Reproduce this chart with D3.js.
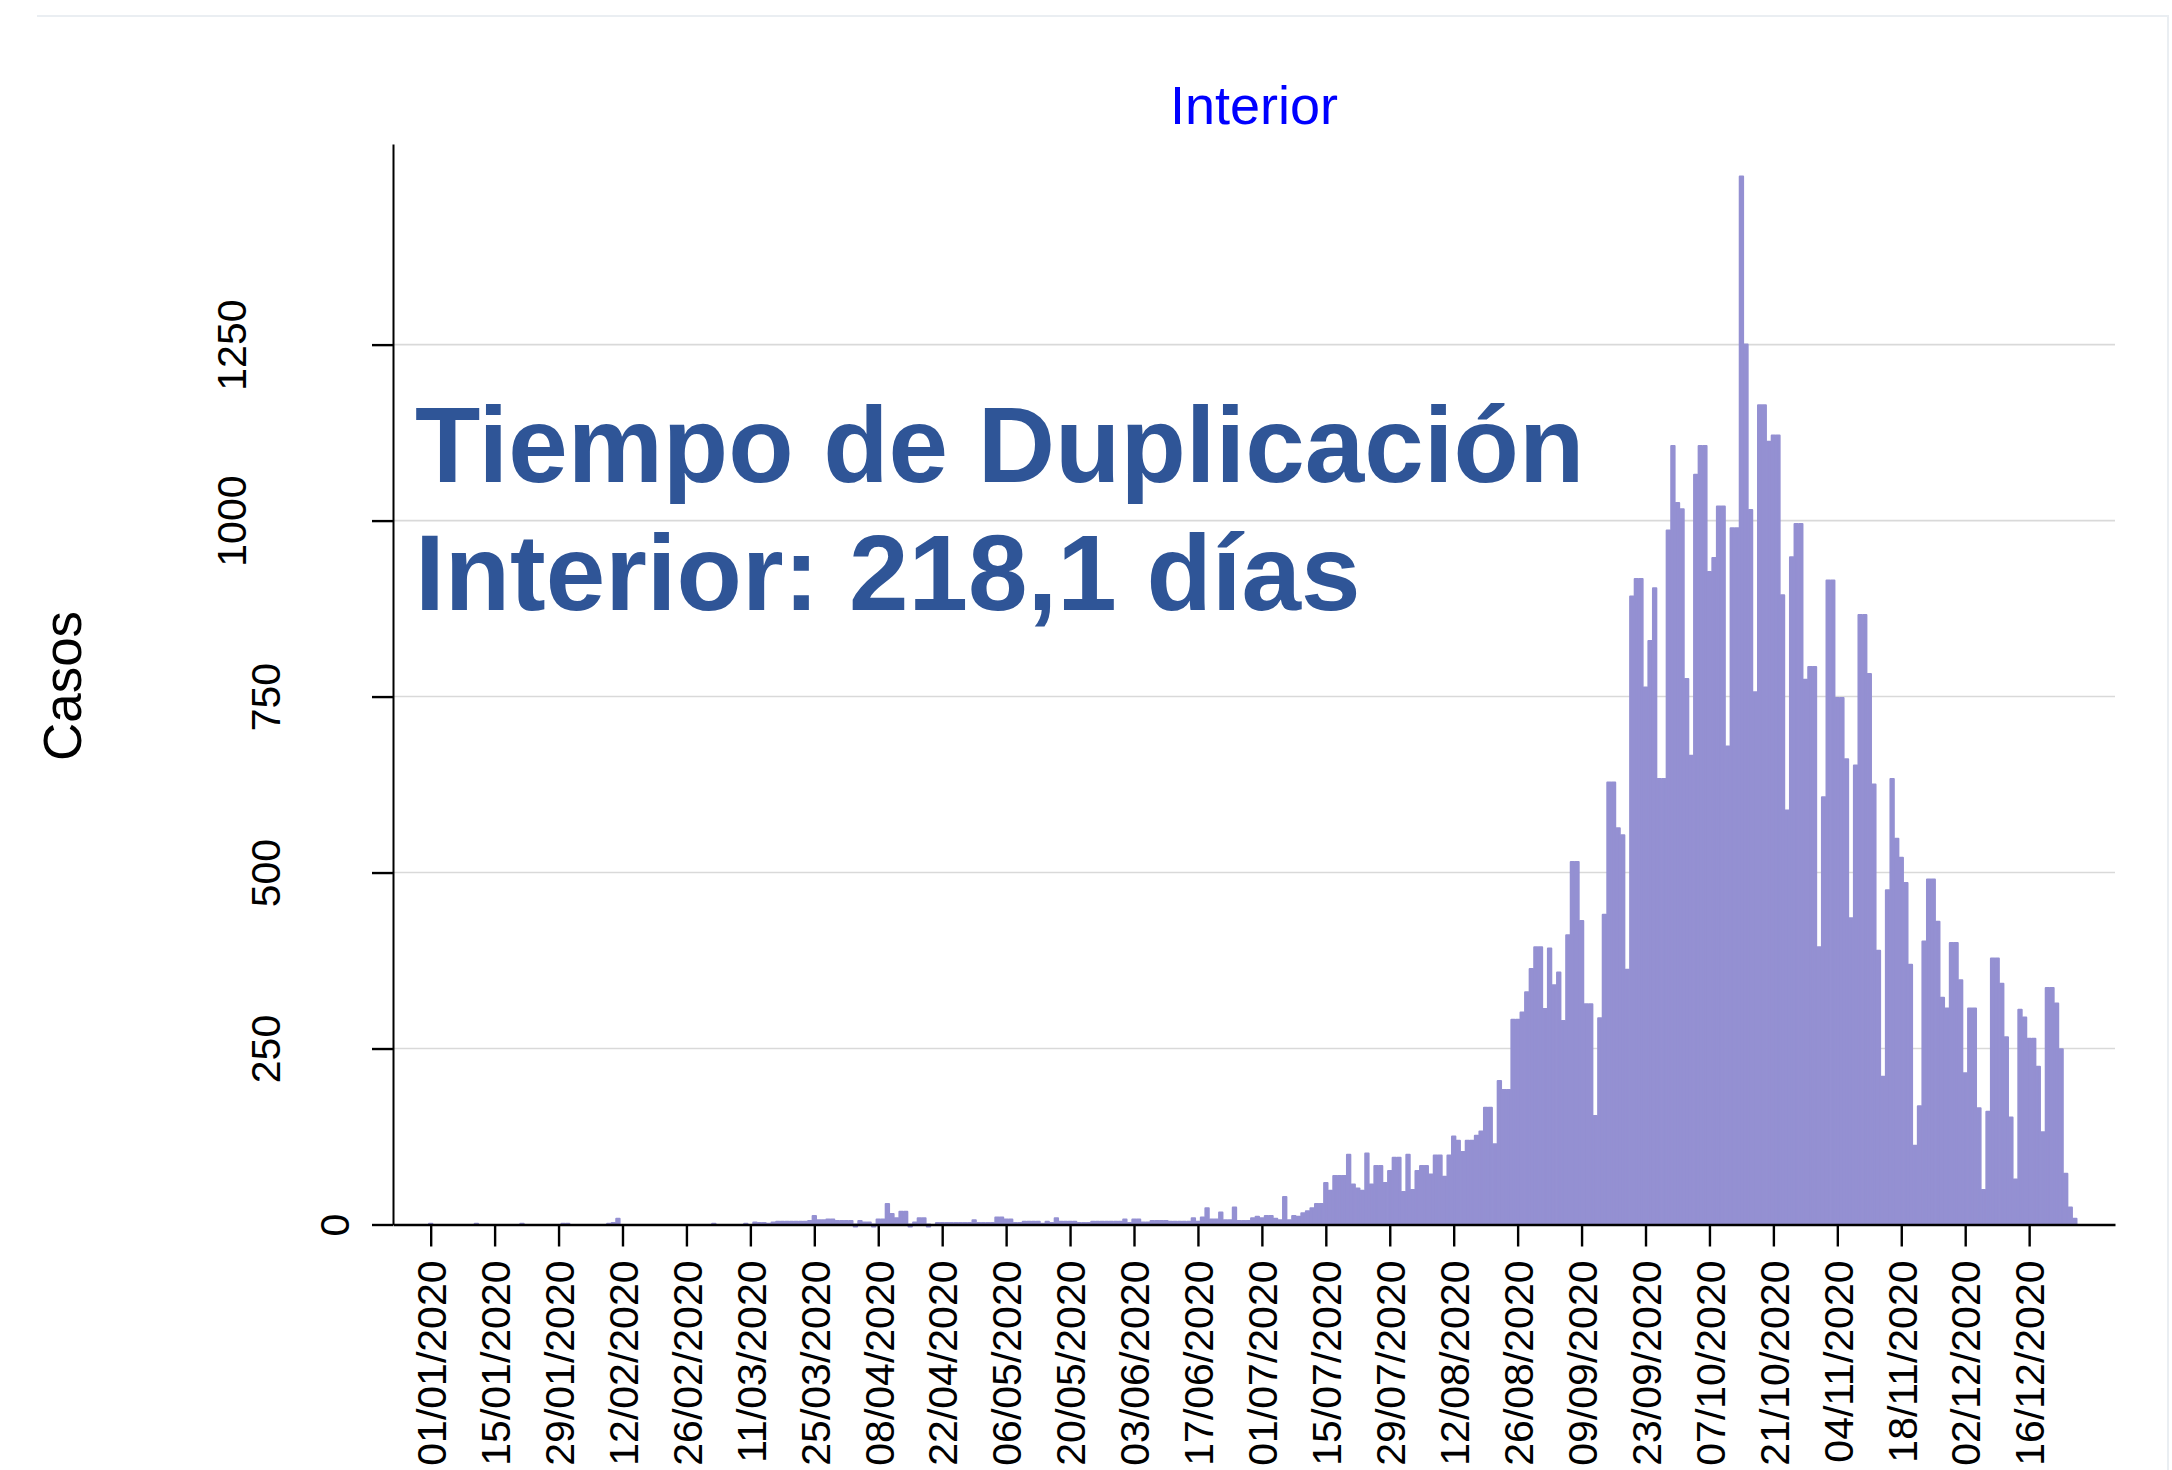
<!DOCTYPE html>
<html>
<head>
<meta charset="utf-8">
<script src="https://cdn.jsdelivr.net/npm/d3@7"></script>
<style>
  body { margin: 0; background: #fff; }
  text { font-family: "Liberation Sans", Arial, sans-serif; }
</style>
</head>
<body>
<script>
// casos diarios, un array por mes (null = sin dato)
var casosEne = [1,null,null,null,null,null,null,null,null,null,1,null,null,null,null,null,null,null,null,null,1,null,null,null,null,null,null,null,null,1,1];
var casosFeb = [null,null,null,null,null,null,null,null,1,2,8,null,null,null,null,null,null,null,null,null,null,null,null,null,null,null,null,null,null];
var casosMar = [null,null,1,null,null,null,null,null,null,1,null,3,2,2,1,3,4,4,4,4,4,4,4,5,12,6,6,7,7,5,5];
var casosAbr = [5,5,-3,5,3,3,-3,7,7,29,15,9,18,18,-3,3,9,9,-3,0,2,2,2,2,2,2,2,2,6,2];
var casosMay = [2,2,2,10,10,7,7,2,2,4,4,4,4,1,4,2,9,4,4,4,4,2,2,2,4,4,4,4,4,4,4];
var casosJun = [7,2,7,7,3,3,5,5,5,5,4,4,4,4,4,9,4,10,23,7,7,17,6,6,24,5,5,5,9,11];
var casosJul = [9,12,12,8,6,39,6,12,11,16,19,23,29,29,59,48,69,69,69,99,57,51,48,101,57,83,83,59,76,95,95];
var casosAgo = [46,99,49,76,83,83,71,98,98,68,98,125,119,103,119,119,126,132,166,166,114,204,191,191,291,291,301,330,363,394,394];
var casosSep = [306,392,340,358,289,411,515,515,431,313,313,154,293,440,628,628,563,553,362,892,917,917,763,829,904,633,633,986,1106,1025];
var casosOct = [1016,775,666,1065,1106,1106,927,947,1020,1020,679,989,989,1489,1250,1015,756,1164,1164,1112,1121,1121,894,588,948,995,995,774,792,792,394];
var casosNov = [607,915,915,748,748,661,435,652,866,866,782,625,389,210,475,633,548,521,485,369,112,168,402,490,490,430,322,307,400,400];
var casosDic = [347,215,307,307,165,49,160,378,378,342,266,152,64,305,294,264,264,224,131,336,336,314,249,72,24,8];

var titulo = "Interior";
var anotacion = ["Tiempo de Duplicación", "Interior: 218,1 días"];
var yTicks = [0, 250, 500, 750, 1000, 1250];

var casos = [].concat(casosEne, casosFeb, casosMar, casosAbr, casosMay, casosJun,
  casosJul, casosAgo, casosSep, casosOct, casosNov, casosDic);
var inicio = Date.UTC(2020, 0, 1);
var DIA = 864e5;
var data = casos.map(function(v, i) {
  return { fecha: new Date(inicio + i * DIA), casos: v };
}).filter(function(d) { return d.casos !== null; });

var W = 2172, H = 1470;
var svg = d3.select("body").append("svg")
  .attr("width", W).attr("height", H);

svg.append("rect").attr("width", W).attr("height", H).attr("fill", "#fff");
// marco tenue del grafico (arriba y derecha)
svg.append("path")
  .attr("d", "M37,16H2168V" + H)
  .attr("fill", "none").attr("stroke", "#eaeef2").attr("stroke-width", 2);

var x = d3.scaleUtc()
  .domain([new Date(inicio - 8.25 * DIA), new Date(inicio + 368.8 * DIA)])
  .range([393, 2115]);
var y = d3.scaleLinear().domain([0, 1535]).range([1224.5, 144]);

// grid
svg.append("g").selectAll("line")
  .data(yTicks.filter(function(t) { return t > 0; }))
  .enter().append("line")
  .attr("x1", 393).attr("x2", 2115)
  .attr("y1", function(d) { return y(d); })
  .attr("y2", function(d) { return y(d); })
  .attr("stroke", "#d9d9d9").attr("stroke-width", 1.6);

// barras
var paso = x(new Date(inicio + DIA)) - x(new Date(inicio));
svg.append("g").selectAll("rect")
  .data(data)
  .enter().append("rect")
  .attr("x", function(d) { return x(d.fecha) - (paso - 1.2) / 2; })
  .attr("width", paso - 1.2)
  .attr("y", function(d) { return y(Math.max(d.casos, 0)); })
  .attr("height", function(d) { return Math.abs(y(d.casos) - y(0)); })
  .attr("fill", "#9490d2")
  .attr("stroke", "#9490d2")
  .attr("stroke-width", 2)
  .attr("stroke-linejoin", "round");

// eje x
var xTicks = d3.utcDay.range(new Date(inicio), new Date(Date.UTC(2020, 11, 17)), 14);
var xAxis = svg.append("g")
  .attr("transform", "translate(0,1224.5)")
  .call(d3.axisBottom(x).tickValues(xTicks).tickSize(22).tickSizeOuter(0)
    .tickFormat(d3.utcFormat("%d/%m/%Y")));
xAxis.select(".domain").attr("stroke", "#000").attr("stroke-width", 2.6);
xAxis.selectAll(".tick line").attr("stroke", "#000").attr("stroke-width", 2.4);
xAxis.selectAll(".tick text")
  .attr("font-size", 41).attr("fill", "#000")
  .attr("text-anchor", "end")
  .attr("transform", "translate(0,36) rotate(-90)")
  .attr("x", 0).attr("y", 0).attr("dy", "0.36em");

// eje y
var yAxis = svg.append("g")
  .attr("transform", "translate(393,0)")
  .call(d3.axisLeft(y).tickValues(yTicks).tickSize(21).tickSizeOuter(0)
    .tickFormat(d3.format("d")));
yAxis.select(".domain").attr("stroke", "#000").attr("stroke-width", 2);
yAxis.selectAll(".tick line").attr("stroke", "#000").attr("stroke-width", 2.4);
yAxis.selectAll(".tick text")
  .attr("font-size", 41).attr("fill", "#000")
  .attr("text-anchor", "middle")
  .attr("y", 0).attr("dy", "0.36em")
  .each(function() {
    var t = d3.select(this);
    var w = this.getComputedTextLength();
    t.attr("x", 0).attr("transform", "translate(" + (-25 - 1.5 * w) + ",0) rotate(-90)");
  });

// titulo eje y
svg.append("text")
  .attr("transform", "translate(62,686) rotate(-90)")
  .attr("text-anchor", "middle").attr("dy", "0.36em")
  .attr("font-size", 53).attr("fill", "#000")
  .text("Casos");

// titulo
svg.append("text")
  .attr("x", 1254).attr("y", 124)
  .attr("text-anchor", "middle")
  .attr("font-size", 54).attr("fill", "#0000ff")
  .text(titulo);

// anotacion
svg.append("g").selectAll("text")
  .data(anotacion)
  .enter().append("text")
  .attr("x", 415)
  .attr("y", function(d, i) { return 482 + i * 127.5; })
  .attr("font-size", 107).attr("font-weight", "bold")
  .attr("fill", "#2f5597")
  .text(function(d) { return d; });
</script>
</body>
</html>
